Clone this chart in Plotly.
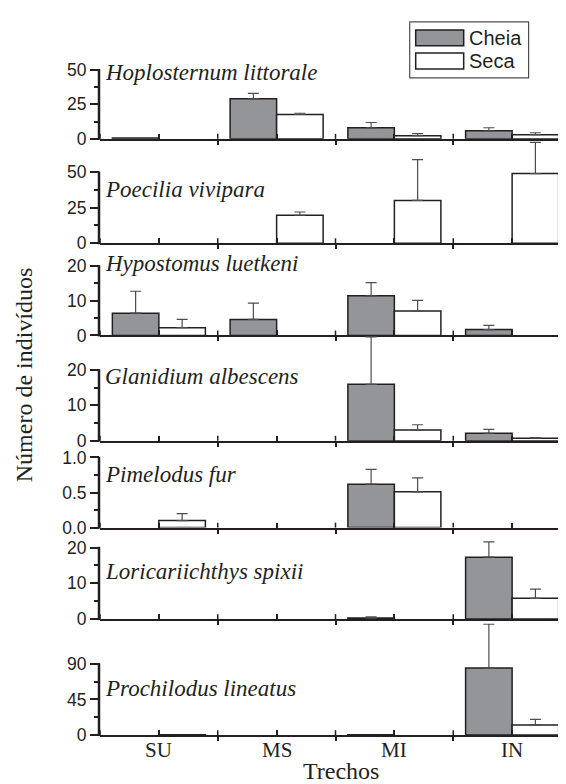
import numpy as np
import plotly.graph_objects as go

nan = np.nan

categories = ["SU", "MS", "MI", "IN"]
species = ["Hoplosternum littorale", "Poecilia vivipara", "Hypostomus luetkeni",
           "Glanidium albescens", "Pimelodus fur", "Loricariichthys spixii",
           "Prochilodus lineatus"]

# mean number of individuals (Cheia = flood season, Seca = dry season)
cheia_means = [
    [0.5, 28.9, 8.0, 5.8],
    [0.0, 0.0, 0.0, 0.0],
    [6.4, 4.6, 11.4, 1.7],
    [0.0, 0.0, 15.9, 2.1],
    [0.0, 0.0, 0.62, 0.0],
    [0.0, 0.0, 0.3, 17.3],
    [0.0, 0.0, 0.5, 84.6],
]
cheia_errs = [
    [nan, 4.0, 3.8, 2.2],
    [nan, nan, nan, nan],
    [6.3, 4.7, 3.8, 1.2],
    [nan, nan, 13.4, 1.1],
    [nan, nan, 0.21, nan],
    [nan, nan, 0.3, 4.3],
    [nan, nan, nan, 55.4],
]
seca_means = [
    [0.0, 17.6, 2.3, 3.0],
    [0.0, 19.7, 30.1, 49.0],
    [2.25, 0.0, 7.0, 0.0],
    [0.0, 0.0, 3.0, 0.7],
    [0.1, 0.0, 0.51, 0.0],
    [0.0, 0.0, 0.0, 5.8],
    [0.5, 0.0, 0.0, 12.8],
]
seca_errs = [
    [nan, 0.9, 1.4, 1.4],
    [nan, 2.3, 28.7, 22.0],
    [2.35, nan, 3.1, nan],
    [nan, nan, 1.5, 0.2],
    [0.1, nan, 0.2, nan],
    [nan, nan, nan, 2.6],
    [nan, nan, nan, 7.1],
]

y_major_ticks = [[0, 25, 50], [0, 25, 50], [0, 10, 20], [0, 10, 20],
                 [0, 0.5, 1.0], [0, 10, 20], [0, 45, 90]]
y_minor_ticks = [[12.5, 37.5], [12.5, 37.5], [5, 15], [5, 15],
                 [0.25, 0.75], [5, 15], [22.5, 67.5]]
y_tick_format = ["d", "d", "d", "d", ".1f", "d", "d"]

W, H = 566, 784
X_LEFT, X_RIGHT = 92, 563
zero_px = [132.5, 238.3, 331.7, 438.3, 526.3, 619.0, 736.5]
toptick_px = [62.5, 166.3, 261.2, 366.5, 455.3, 546.5, 664.3]
domtop_px = [40, 134, 240, 332, 440, 528, 621]
label_mid_px = [65, 184, 259, 373, 473, 571, 689]

INK = "#231f20"
GREY = "#939598"
ERR = "#4d4d4f"
SERIF = "Liberation Serif, Times New Roman, serif"
SANS = "Liberation Sans, Arial, sans-serif"

fig = go.Figure()
layout = dict(width=W, height=H, autosize=False, margin=dict(l=0, r=0, t=0, b=0),
              paper_bgcolor="white", plot_bgcolor="rgba(0,0,0,0)",
              barmode="group", bargap=0.21, bargroupgap=0.0, showlegend=False)
shapes, annotations = [], []
xdom = [X_LEFT / W, X_RIGHT / W]
boundaries = [-0.5, 0.5, 1.5, 2.5, 3.5]


def err_dict(errs):
    e = np.array(errs, dtype=float)
    minus = np.where(np.isnan(e), np.nan, 0.0)
    return dict(type="data", symmetric=False, array=e, arrayminus=minus,
                color=ERR, thickness=1.2, width=5.5)


def present(vals):
    # absent species (zero catch) are not drawn as bars
    return [v if v > 0 else None for v in vals]


def px_x(x):
    return x / W


def px_y(y):
    return 1 - y / H


def vline(x, y_top, y_bot, width):
    return dict(type="line", xref="paper", yref="paper",
                x0=px_x(x), x1=px_x(x), y0=px_y(y_bot), y1=px_y(y_top),
                line=dict(color=INK, width=width))


for i in range(7):
    sfx = "" if i == 0 else str(i + 1)
    xa, ya = "x" + sfx, "y" + sfx
    top_val = y_major_ticks[i][-1]
    ppu = (zero_px[i] - toptick_px[i]) / top_val
    ymax = (zero_px[i] - domtop_px[i]) / ppu
    fig.add_trace(go.Bar(x=categories, y=present(cheia_means[i]), name="Cheia",
                         marker=dict(color=GREY, line=dict(color=INK, width=1.5)),
                         error_y=err_dict(cheia_errs[i]), xaxis=xa, yaxis=ya))
    fig.add_trace(go.Bar(x=categories, y=present(seca_means[i]), name="Seca",
                         marker=dict(color="white", line=dict(color=INK, width=1.5)),
                         error_y=err_dict(seca_errs[i]), xaxis=xa, yaxis=ya))
    layout["xaxis" + sfx] = dict(
        domain=xdom, anchor=ya, range=[-0.5, 3.5], type="category",
        categoryorder="array", categoryarray=categories,
        showline=True, linecolor=INK, linewidth=2, showgrid=False, zeroline=False,
        tickmode="array", tickvals=categories,
        ticks="inside", ticklen=5, tickwidth=1.5, tickcolor=INK,
        minor=dict(tickmode="array", tickvals=boundaries, ticks="outside",
                   ticklen=4, tickwidth=1.5, tickcolor=INK),
        showticklabels=False, fixedrange=True)
    layout["yaxis" + sfx] = dict(
        domain=[px_y(zero_px[i]), px_y(domtop_px[i])], anchor=xa, range=[0, ymax],
        showline=False, showgrid=False, zeroline=False,
        tickmode="array", tickvals=y_major_ticks[i], tickformat=y_tick_format[i],
        ticks="outside", ticklen=9, tickwidth=1.5, tickcolor=INK,
        minor=dict(tickmode="array", tickvals=y_minor_ticks[i], ticks="outside",
                   ticklen=5, tickwidth=1.5, tickcolor=INK),
        tickfont=dict(family=SANS, size=17.5, color=INK), fixedrange=True)
    # y-axis line from 0 to the top tick only
    shapes.append(vline(X_LEFT - 1, toptick_px[i] - 0.75, zero_px[i] + 1, 2.5))
    # upward half of the crossing boundary ticks
    for b in boundaries:
        xp = X_LEFT + (b + 0.5) / 4 * (X_RIGHT - X_LEFT)
        shapes.append(vline(xp, zero_px[i] - 5, zero_px[i], 1.5))
    annotations.append(dict(text=species[i], xref="paper", yref="paper",
                            x=px_x(95), y=px_y(label_mid_px[i]),
                            xanchor="left", yanchor="middle", showarrow=False,
                            font=dict(family=SERIF, size=23, color=INK, style="italic")))

for c in categories:
    annotations.append(dict(text=c, xref="x7", yref="paper", x=c, y=px_y(752),
                            xanchor="center", yanchor="middle", showarrow=False,
                            font=dict(family=SERIF, size=21, color=INK)))

shapes.append(dict(type="rect", xref="paper", yref="paper",
                   x0=px_x(401.7), x1=px_x(520.6), y0=px_y(70.7), y1=px_y(14),
                   line=dict(color="#4d4d4f", width=1.2), fillcolor="white"))
for nm, col, yc in [("Cheia", GREY, 30.3), ("Seca", "white", 53.7)]:
    shapes.append(dict(type="rect", xref="paper", yref="paper",
                       x0=px_x(407.7), x1=px_x(455.7), y0=px_y(yc + 8), y1=px_y(yc - 8),
                       line=dict(color=INK, width=1.5), fillcolor=col))
    annotations.append(dict(text=nm, xref="paper", yref="paper", x=px_x(459), y=px_y(yc),
                            xanchor="left", yanchor="middle", showarrow=False,
                            font=dict(family=SANS, size=20, color=INK)))

annotations.append(dict(text="Trechos", xref="paper", yref="paper", x=px_x(333), y=px_y(773),
                        xanchor="center", yanchor="middle", showarrow=False,
                        font=dict(family=SERIF, size=24, color=INK)))
annotations.append(dict(text="Número de indivíduos", xref="paper", yref="paper",
                        x=px_x(16), y=px_y(372), xanchor="center", yanchor="middle",
                        textangle=-90, showarrow=False,
                        font=dict(family=SERIF, size=24, color=INK)))

layout["shapes"] = shapes
layout["annotations"] = annotations
fig.update_layout(**layout)
fig.write_html("out.html")
